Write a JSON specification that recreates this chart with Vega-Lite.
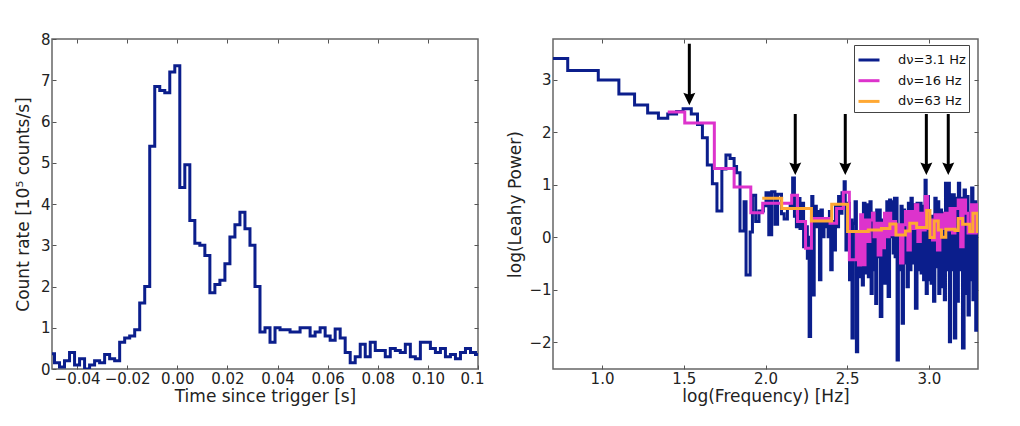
{
  "$schema": "https://vega.github.io/schema/vega-lite/v6.json",
  "background": "white",
  "padding": {"left": 13, "top": 31, "right": 5, "bottom": 5},
  "spacing": 21,
  "config": {
    "font": "DejaVu Sans",
    "view": {"stroke": "#666666", "strokeWidth": 1.5},
    "axis": {
      "grid": false, "domain": false, "tickColor": "#555555", "tickSize": -4, "tickWidth": 1,
      "labelFont": "DejaVu Sans", "labelFontSize": 15, "labelColor": "#222222",
      "titleFont": "DejaVu Sans", "titleFontSize": 17, "titleFontWeight": "normal", "titleColor": "#222222",
      "labelOverlap": false, "labelFlush": false
    }
  },
  "datasets": {
    "lightcurve": [
      {"t": -0.05, "rate": 0.37}, {"t": -0.049, "rate": 0.15}, {"t": -0.047, "rate": 0.05}, {"t": -0.045, "rate": 0.2},
      {"t": -0.043, "rate": 0.4}, {"t": -0.041, "rate": 0.1}, {"t": -0.039, "rate": 0.25}, {"t": -0.037, "rate": 0},
      {"t": -0.035, "rate": 0.1}, {"t": -0.033, "rate": 0.2}, {"t": -0.031, "rate": 0.15}, {"t": -0.029, "rate": 0.35},
      {"t": -0.027, "rate": 0.25}, {"t": -0.025, "rate": 0.2}, {"t": -0.023, "rate": 0.65}, {"t": -0.021, "rate": 0.75},
      {"t": -0.019, "rate": 0.8}, {"t": -0.017, "rate": 0.95}, {"t": -0.015, "rate": 1.6}, {"t": -0.013, "rate": 2.0},
      {"t": -0.011, "rate": 5.4}, {"t": -0.009, "rate": 6.85}, {"t": -0.007, "rate": 6.75}, {"t": -0.005, "rate": 6.7},
      {"t": -0.003, "rate": 7.2}, {"t": -0.001, "rate": 7.35}, {"t": 0.001, "rate": 4.4}, {"t": 0.003, "rate": 4.95},
      {"t": 0.005, "rate": 3.6}, {"t": 0.007, "rate": 3.05}, {"t": 0.009, "rate": 3.0}, {"t": 0.011, "rate": 2.75},
      {"t": 0.013, "rate": 1.85}, {"t": 0.015, "rate": 2.05}, {"t": 0.017, "rate": 2.15}, {"t": 0.019, "rate": 2.55},
      {"t": 0.021, "rate": 3.2}, {"t": 0.023, "rate": 3.5}, {"t": 0.025, "rate": 3.8}, {"t": 0.027, "rate": 3.4},
      {"t": 0.029, "rate": 3.0}, {"t": 0.031, "rate": 2.0}, {"t": 0.033, "rate": 0.9}, {"t": 0.035, "rate": 1.0},
      {"t": 0.037, "rate": 0.65}, {"t": 0.039, "rate": 1.0}, {"t": 0.041, "rate": 0.95}, {"t": 0.043, "rate": 0.95},
      {"t": 0.045, "rate": 0.9}, {"t": 0.047, "rate": 0.9}, {"t": 0.049, "rate": 1.0}, {"t": 0.051, "rate": 1.0},
      {"t": 0.053, "rate": 0.8}, {"t": 0.055, "rate": 0.9}, {"t": 0.057, "rate": 1.0}, {"t": 0.059, "rate": 0.8},
      {"t": 0.061, "rate": 0.7}, {"t": 0.063, "rate": 0.97}, {"t": 0.065, "rate": 0.75}, {"t": 0.067, "rate": 0.4},
      {"t": 0.069, "rate": 0.15}, {"t": 0.071, "rate": 0.3}, {"t": 0.073, "rate": 0.6}, {"t": 0.075, "rate": 0.3},
      {"t": 0.077, "rate": 0.65}, {"t": 0.079, "rate": 0.45}, {"t": 0.081, "rate": 0.45}, {"t": 0.083, "rate": 0.3},
      {"t": 0.085, "rate": 0.5}, {"t": 0.087, "rate": 0.45}, {"t": 0.089, "rate": 0.4}, {"t": 0.091, "rate": 0.6},
      {"t": 0.093, "rate": 0.3}, {"t": 0.095, "rate": 0.25}, {"t": 0.097, "rate": 0.65}, {"t": 0.099, "rate": 0.65},
      {"t": 0.101, "rate": 0.5}, {"t": 0.103, "rate": 0.4}, {"t": 0.105, "rate": 0.5}, {"t": 0.107, "rate": 0.3},
      {"t": 0.109, "rate": 0.35}, {"t": 0.111, "rate": 0.25}, {"t": 0.113, "rate": 0.4}, {"t": 0.115, "rate": 0.5},
      {"t": 0.117, "rate": 0.4}, {"t": 0.119, "rate": 0.35}, {"t": 0.12, "rate": 0.35}
    ],
    "blue": [
      {"logf": 0.7, "power": 3.41}, {"logf": 0.79, "power": 3.18}, {"logf": 0.977, "power": 3.0}, {"logf": 1.103, "power": 2.73},
      {"logf": 1.199, "power": 2.52}, {"logf": 1.279, "power": 2.37}, {"logf": 1.345, "power": 2.27}, {"logf": 1.402, "power": 2.35},
      {"logf": 1.456, "power": 2.4}, {"logf": 1.496, "power": 2.45}, {"logf": 1.546, "power": 2.35}, {"logf": 1.584, "power": 2.15},
      {"logf": 1.614, "power": 1.9}, {"logf": 1.644, "power": 1.38}, {"logf": 1.675, "power": 1.02}, {"logf": 1.703, "power": 0.5},
      {"logf": 1.733, "power": 1.3}, {"logf": 1.758, "power": 1.57}, {"logf": 1.783, "power": 1.5}, {"logf": 1.808, "power": 1.35},
      {"logf": 1.823, "power": 1.23}, {"logf": 1.844, "power": 0.12}, {"logf": 1.869, "power": 0.68}, {"logf": 1.881, "power": -0.72},
      {"logf": 1.906, "power": 0.1}, {"logf": 1.92, "power": 0.8}, {"logf": 1.94, "power": 0.3}, {"logf": 1.96, "power": 0.5},
      {"logf": 1.987, "power": 0.6}, {"logf": 2.003, "power": 0.85}, {"logf": 2.02, "power": 0.05}, {"logf": 2.038, "power": 0.87},
      {"logf": 2.058, "power": 0.25}, {"logf": 2.074, "power": 0.82}, {"logf": 2.098, "power": 0.45}, {"logf": 2.114, "power": 0.35},
      {"logf": 2.134, "power": 0.55}, {"logf": 2.151, "power": 0.6}, {"logf": 2.166, "power": 1.13}, {"logf": 2.177, "power": 0.4},
      {"logf": 2.189, "power": 0.2}, {"logf": 2.201, "power": 0.74}, {"logf": 2.211, "power": 0.17}, {"logf": 2.221, "power": 0.65},
      {"logf": 2.233, "power": -0.18}, {"logf": 2.246, "power": 0.2}, {"logf": 2.256, "power": -0.4}, {"logf": 2.261, "power": 0.0},
      {"logf": 2.267, "power": -1.89}, {"logf": 2.276, "power": -0.2}, {"logf": 2.283, "power": 0.78}, {"logf": 2.29, "power": -1.1},
      {"logf": 2.298, "power": 0.59}, {"logf": 2.311, "power": 0.2}, {"logf": 2.323, "power": 0.49}, {"logf": 2.33, "power": -0.81},
      {"logf": 2.339, "power": 0.52}, {"logf": 2.348, "power": 0.01}, {"logf": 2.358, "power": 0.33}, {"logf": 2.366, "power": 0.2},
      {"logf": 2.375, "power": 0.33}, {"logf": 2.383, "power": 0.01}, {"logf": 2.391, "power": 0.49}, {"logf": 2.399, "power": -0.62},
      {"logf": 2.408, "power": 0.3}, {"logf": 2.418, "power": -0.24}, {"logf": 2.428, "power": 0.59}, {"logf": 2.437, "power": 0.2},
      {"logf": 2.447, "power": 0.78}, {"logf": 2.456, "power": 0.46}, {"logf": 2.468, "power": 0.85}, {"logf": 2.481, "power": 1.06},
      {"logf": 2.488, "power": 0.65}, {"logf": 2.492, "power": -0.24}, {"logf": 2.503, "power": 0.65}, {"logf": 2.514, "power": -0.81},
      {"logf": 2.519, "power": 0.33}, {"logf": 2.529, "power": -1.92}, {"logf": 2.537, "power": 0.27},
      {"logf": 2.548, "power": 0.68}, {"logf": 2.556, "power": -2.18}, {"logf": 2.564, "power": 0.08}, {"logf": 2.574, "power": -0.75},
      {"logf": 2.584, "power": 0.08}, {"logf": 2.592, "power": -0.91}, {"logf": 2.599, "power": 0.65}, {"logf": 2.609, "power": -0.68},
      {"logf": 2.619, "power": 0.62}, {"logf": 2.629, "power": -0.75}, {"logf": 2.639, "power": 0.68}, {"logf": 2.646, "power": -1.07},
      {"logf": 2.653, "power": 0.46}, {"logf": 2.661, "power": -0.62}, {"logf": 2.669, "power": 0.27}, {"logf": 2.674, "power": -1.26},
      {"logf": 2.68, "power": 0.52}, {"logf": 2.687, "power": -0.37}, {"logf": 2.694, "power": 0.52}, {"logf": 2.702, "power": -1.51},
      {"logf": 2.712, "power": 0.33}, {"logf": 2.72, "power": -0.875}, {"logf": 2.728, "power": 0.4}, {"logf": 2.735, "power": -0.875},
      {"logf": 2.742, "power": 0.68}, {"logf": 2.75, "power": -1.13}, {"logf": 2.759, "power": 0.71}, {"logf": 2.766, "power": 0.01},
      {"logf": 2.773, "power": 0.68}, {"logf": 2.781, "power": -0.3}, {"logf": 2.789, "power": 0.745}, {"logf": 2.793, "power": -0.37},
      {"logf": 2.797, "power": 0.745}, {"logf": 2.805, "power": -2.34}, {"logf": 2.813, "power": 0.08}, {"logf": 2.821, "power": -0.62},
      {"logf": 2.829, "power": 0.59}, {"logf": 2.836, "power": -1.64}, {"logf": 2.844, "power": 0.52}, {"logf": 2.851, "power": -0.49},
      {"logf": 2.858, "power": 0.46}, {"logf": 2.866, "power": -0.94}, {"logf": 2.874, "power": 0.65}, {"logf": 2.882, "power": -0.62},
      {"logf": 2.89, "power": 0.745}, {"logf": 2.898, "power": -0.49}, {"logf": 2.907, "power": 0.62}, {"logf": 2.917, "power": -1.35},
      {"logf": 2.927, "power": 0.65}, {"logf": 2.937, "power": -0.62}, {"logf": 2.945, "power": 0.65}, {"logf": 2.952, "power": -0.68},
      {"logf": 2.96, "power": 0.59}, {"logf": 2.967, "power": -0.81}, {"logf": 2.976, "power": 1.09}, {"logf": 2.983, "power": -1.07},
      {"logf": 2.99, "power": 0.78}, {"logf": 2.997, "power": -0.81}, {"logf": 3.006, "power": 0.4}, {"logf": 3.013, "power": -0.875},
      {"logf": 3.02, "power": 0.4}, {"logf": 3.028, "power": -1.22}, {"logf": 3.036, "power": 0.745}, {"logf": 3.044, "power": -0.56},
      {"logf": 3.053, "power": 0.68}, {"logf": 3.06, "power": -1.07}, {"logf": 3.067, "power": 0.52}, {"logf": 3.077, "power": -0.94},
      {"logf": 3.087, "power": 0.46}, {"logf": 3.094, "power": -1.19}, {"logf": 3.101, "power": 1.03}, {"logf": 3.111, "power": -0.62},
      {"logf": 3.119, "power": 1.03}, {"logf": 3.125, "power": -1.99}, {"logf": 3.132, "power": 0.81}, {"logf": 3.139, "power": -0.62},
      {"logf": 3.146, "power": 0.81}, {"logf": 3.155, "power": -1.92}, {"logf": 3.164, "power": 0.745}, {"logf": 3.172, "power": -1.22},
      {"logf": 3.18, "power": 1.03}, {"logf": 3.188, "power": -0.62}, {"logf": 3.196, "power": 0.745}, {"logf": 3.205, "power": -2.11},
      {"logf": 3.215, "power": 0.9}, {"logf": 3.223, "power": -1.07}, {"logf": 3.231, "power": 0.78}, {"logf": 3.239, "power": -1.48},
      {"logf": 3.247, "power": 0.46}, {"logf": 3.254, "power": -0.81}, {"logf": 3.261, "power": 0.94}, {"logf": 3.269, "power": -1.19},
      {"logf": 3.277, "power": 0.68}, {"logf": 3.286, "power": -1.77}, {"logf": 3.296, "power": 0.4}, {"logf": 3.304, "power": -0.62}
    ],
    "magenta": [
      {"logf": 1.402, "power": 2.39}, {"logf": 1.506, "power": 2.18}, {"logf": 1.687, "power": 1.31}, {"logf": 1.808, "power": 0.96},
      {"logf": 1.91, "power": 0.47}, {"logf": 1.983, "power": 0.65}, {"logf": 2.058, "power": 0.65}, {"logf": 2.16, "power": 0.8},
      {"logf": 2.196, "power": 0.3}, {"logf": 2.245, "power": -0.21}, {"logf": 2.281, "power": 0.36}, {"logf": 2.395, "power": 0.27},
      {"logf": 2.435, "power": 0.55}, {"logf": 2.476, "power": 0.86}, {"logf": 2.513, "power": -0.43}, {"logf": 2.557, "power": 0.08},
      {"logf": 2.569, "power": -0.53}, {"logf": 2.582, "power": 0.43}, {"logf": 2.594, "power": -0.525}, {"logf": 2.609, "power": 0.33},
      {"logf": 2.624, "power": -0.08}, {"logf": 2.639, "power": 0.33}, {"logf": 2.654, "power": 0.46}, {"logf": 2.664, "power": 0.01},
      {"logf": 2.674, "power": 0.27}, {"logf": 2.689, "power": -0.335}, {"logf": 2.706, "power": 0.27}, {"logf": 2.716, "power": -0.2},
      {"logf": 2.728, "power": 0.46}, {"logf": 2.741, "power": 0.01}, {"logf": 2.756, "power": 0.46}, {"logf": 2.766, "power": 0.05},
      {"logf": 2.781, "power": 0.3}, {"logf": 2.796, "power": 0.05}, {"logf": 2.811, "power": 0.24}, {"logf": 2.826, "power": -0.49},
      {"logf": 2.841, "power": 0.24}, {"logf": 2.856, "power": 0.49}, {"logf": 2.871, "power": -0.24}, {"logf": 2.886, "power": 0.49},
      {"logf": 2.901, "power": 0.17}, {"logf": 2.917, "power": 0.62}, {"logf": 2.932, "power": -0.08}, {"logf": 2.947, "power": 0.46},
      {"logf": 2.962, "power": 0.14}, {"logf": 2.977, "power": 0.78}, {"logf": 2.992, "power": 0.17}, {"logf": 3.007, "power": 0.33},
      {"logf": 3.022, "power": -0.05}, {"logf": 3.037, "power": 0.43}, {"logf": 3.052, "power": -0.24}, {"logf": 3.067, "power": 0.43},
      {"logf": 3.082, "power": 0.17}, {"logf": 3.097, "power": 0.46}, {"logf": 3.112, "power": 0.14}, {"logf": 3.129, "power": 0.55},
      {"logf": 3.144, "power": 0.08}, {"logf": 3.159, "power": 0.55}, {"logf": 3.179, "power": 0.71}, {"logf": 3.194, "power": -0.18},
      {"logf": 3.209, "power": 0.71}, {"logf": 3.224, "power": 0.46}, {"logf": 3.239, "power": 0.08}, {"logf": 3.259, "power": 0.62},
      {"logf": 3.274, "power": 0.08}, {"logf": 3.289, "power": 0.62}, {"logf": 3.304, "power": 0.08}
    ],
    "orange": [
      {"logf": 1.98, "power": 0.745}, {"logf": 2.099, "power": 0.55}, {"logf": 2.281, "power": 0.31}, {"logf": 2.405, "power": 0.63},
      {"logf": 2.502, "power": 0.11}, {"logf": 2.629, "power": 0.14}, {"logf": 2.709, "power": 0.17}, {"logf": 2.761, "power": 0.255},
      {"logf": 2.798, "power": 0.045}, {"logf": 2.856, "power": 0.12}, {"logf": 2.883, "power": 0.27}, {"logf": 2.925, "power": 0.185},
      {"logf": 2.986, "power": 0.51}, {"logf": 3.006, "power": -0.005}, {"logf": 3.032, "power": 0.31}, {"logf": 3.057, "power": 0.14},
      {"logf": 3.077, "power": 0.0}, {"logf": 3.103, "power": 0.155}, {"logf": 3.159, "power": 0.13}, {"logf": 3.179, "power": 0.36},
      {"logf": 3.206, "power": 0.25}, {"logf": 3.249, "power": 0.11}, {"logf": 3.269, "power": 0.46}, {"logf": 3.295, "power": 0.11},
      {"logf": 3.304, "power": 0.11}
    ],
    "arrows": [
      {"logf": 1.534, "top": 3.69, "tip": 2.63},
      {"logf": 2.182, "top": 2.35, "tip": 1.3},
      {"logf": 2.488, "top": 2.35, "tip": 1.3},
      {"logf": 2.984, "top": 2.35, "tip": 1.3},
      {"logf": 3.118, "top": 2.35, "tip": 1.3}
    ]
  },
  "hconcat": [
    {
      "width": 426,
      "height": 330,
      "data": {"name": "lightcurve"},
      "resolve": {"axis": {"x": "independent", "y": "independent"}},
      "layer": [
        {
          "mark": {"type": "line", "interpolate": "step-after", "color": "#0b1e8c", "strokeWidth": 3, "clip": true},
          "encoding": {
            "x": {
              "field": "t", "type": "quantitative",
              "scale": {"domain": [-0.05, 0.12], "nice": false, "zero": false},
              "axis": {
                "title": "Time since trigger [s]", "orient": "bottom",
                "values": [-0.04, -0.02, 0, 0.02, 0.04, 0.06, 0.08, 0.1, 0.12],
                "labelExpr": "datum.value > 0.11 ? '0.1' : format(datum.value, '.2f')",
                "labelOffset": {"condition": {"test": "datum.value > 0.11", "value": -6}, "value": 0},
                "labelPadding": 6, "titlePadding": 2
              }
            },
            "y": {
              "field": "rate", "type": "quantitative",
              "scale": {"domain": [0, 8], "nice": false},
              "axis": {"title": "Count rate [10⁵  counts/s]", "orient": "left", "values": [0, 1, 2, 3, 4, 5, 6, 7, 8], "labelPadding": 6, "titlePadding": 8}
            }
          }
        },
        {
          "mark": {"type": "line", "opacity": 0},
          "encoding": {
            "x": {"field": "t", "type": "quantitative", "axis": {"orient": "top", "title": null, "labels": false, "values": [-0.04, -0.02, 0, 0.02, 0.04, 0.06, 0.08, 0.1]}},
            "y": {"field": "rate", "type": "quantitative", "axis": {"orient": "right", "title": null, "labels": false, "values": [1, 2, 3, 4, 5, 6, 7]}}
          }
        }
      ]
    },
    {
      "width": 425,
      "height": 330,
      "resolve": {"axis": {"x": "independent", "y": "independent"}},
      "encoding": {
        "x": {"field": "logf", "type": "quantitative", "axis": null, "scale": {"domain": [0.7, 3.3], "nice": false, "zero": false}},
        "y": {"field": "power", "type": "quantitative", "axis": null, "scale": {"domain": [-2.51, 3.78], "nice": false, "zero": false}}
      },
      "layer": [
        {
          "data": {"name": "blue"},
          "mark": {"type": "line", "interpolate": "step-after", "strokeWidth": 3, "clip": true},
          "encoding": {
            "x": {
              "field": "logf", "type": "quantitative",
              "scale": {"domain": [0.7, 3.3], "nice": false, "zero": false},
              "axis": {"title": "log(Frequency) [Hz]", "orient": "bottom", "values": [1, 1.5, 2, 2.5, 3], "format": ".1f", "labelPadding": 6, "titlePadding": 2}
            },
            "y": {
              "field": "power", "type": "quantitative",
              "scale": {"domain": [-2.51, 3.78], "nice": false, "zero": false},
              "axis": {"title": "log(Leahy Power)", "orient": "left", "values": [-2, -1, 0, 1, 2, 3], "labelPadding": 6, "titlePadding": 4}
            },
            "color": {
              "datum": "dν=3.1 Hz",
              "scale": {"domain": ["dν=3.1 Hz", "dν=16 Hz", "dν=63 Hz"], "range": ["#0b1e8c", "#dd33cc", "#ffa833"]},
              "legend": {
                "title": null, "orient": "none", "legendX": 802, "legendY": 6,
                "symbolType": "stroke", "symbolSize": 441, "symbolStrokeWidth": 3,
                "labelFont": "DejaVu Sans", "labelFontSize": 13, "labelColor": "#111111", "labelOffset": 17,
                "rowPadding": 1.7, "padding": 3, "fillColor": "white", "strokeColor": "#444444"
              }
            }
          }
        },
        {
          "data": {"name": "magenta"},
          "mark": {"type": "line", "interpolate": "step-after", "strokeWidth": 3, "clip": true},
          "encoding": {"color": {"datum": "dν=16 Hz"}}
        },
        {
          "data": {"name": "orange"},
          "mark": {"type": "line", "interpolate": "step-after", "strokeWidth": 3, "clip": true},
          "encoding": {"color": {"datum": "dν=63 Hz"}}
        },
        {
          "data": {"name": "arrows"},
          "mark": {"type": "rule", "color": "black", "strokeWidth": 3},
          "encoding": {"y": {"field": "top", "type": "quantitative", "axis": null}, "y2": {"field": "tip"}}
        },
        {
          "data": {"name": "arrows"},
          "mark": {"type": "point", "filled": true, "color": "black", "opacity": 1, "size": 144, "shape": "M0,1L-1,-1.1L0,-0.75L1,-1.1Z"},
          "encoding": {"y": {"field": "tip", "type": "quantitative", "axis": null}}
        },
        {
          "data": {"name": "blue"},
          "mark": {"type": "line", "opacity": 0},
          "encoding": {
            "x": {"field": "logf", "type": "quantitative", "axis": {"orient": "top", "title": null, "labels": false, "values": [1, 1.5, 2, 2.5, 3]}},
            "y": {"field": "power", "type": "quantitative", "axis": {"orient": "right", "title": null, "labels": false, "values": [-2, -1, 0, 1, 2, 3]}}
          }
        }
      ]
    }
  ]
}
